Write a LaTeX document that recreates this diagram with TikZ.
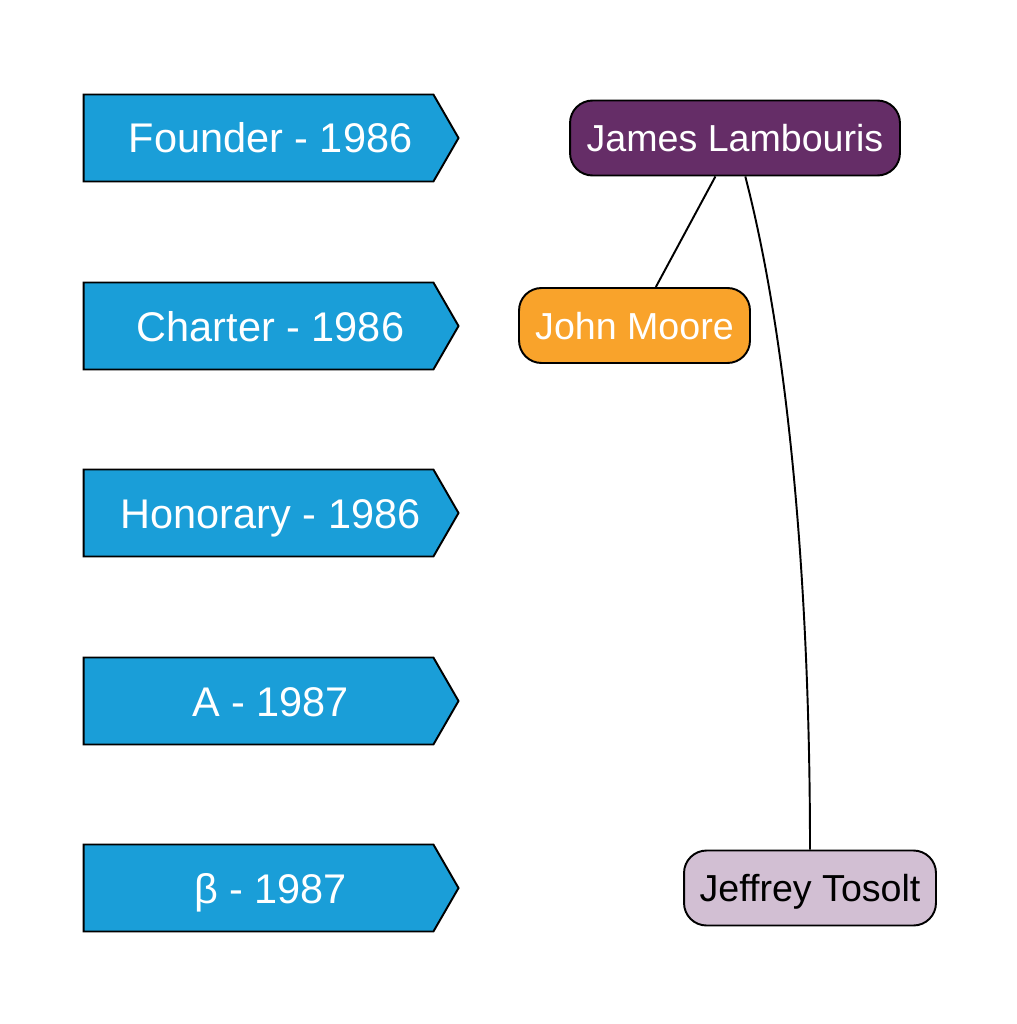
\documentclass[tikz,border=0pt]{standalone}
\usepackage{fontspec}
\setmainfont{Liberation Sans}
\usetikzlibrary{shapes.symbols}
\definecolor{rankblue}{HTML}{1A9ED8}
\definecolor{founderpurple}{HTML}{652D67}
\definecolor{charterorange}{HTML}{F9A32B}
\definecolor{betalilac}{HTML}{D2BFD3}

\tikzset{
	rank/.style={signal, signal to=east, signal pointer angle=120, draw=black, line width=1.1pt,
		fill=rankblue, text=white, minimum width=7.5cm, minimum height=1.74cm,
		inner sep=0pt, text height=0.6cm, text depth=0pt, font=\fontsize{23.6}{28}\selectfont},
	member/.style={rectangle, rounded corners=0.45cm, draw=black, line width=1.1pt,
		inner sep=0pt, minimum height=1.5cm, text height=0.55cm, text depth=0pt,
		font=\fontsize{21.4}{25}\selectfont},
}
\newcommand{\ranktext}[1]{\hspace*{0.48cm}#1}

\begin{document}
\begin{tikzpicture}[x=0.02cm, y=-0.02cm] % chapter members by rank
	
	\useasboundingbox (0,0) rectangle (1017,1024);
	
	%ranks
	\node[rank] (founder) at (258.5,138) {\ranktext{Founder - 1986}};
	\node[rank] (charter) at (258.5,326) {\ranktext{Charter - 1986}};
	\node[rank] (honorary) at (258.5,513) {\ranktext{Honorary - 1986}};
	\node[rank] (alpha) at (258.5,701) {\ranktext{A - 1987}};
	\node[rank] (beta) at (258.5,888) {\ranktext{β - 1987}};
	
	%members
	\node[member, fill=founderpurple, text=white, minimum width=6.6cm] (james) at (735,138) {James Lambouris};
	\node[member, fill=charterorange, text=white, minimum width=4.62cm] (john) at (634.5,325.5) {John Moore};
	\node[member, fill=betalilac, text=black, minimum width=5.04cm] (jeffrey) at (810,888) {Jeffrey Tosolt};
	
	%links
	\draw[line width=1.1pt] (james.-117.8) -- (john.61.3);
	\draw[line width=1.1pt] (james.-75) .. controls +(45,174) and +(0,-251) .. (jeffrey.north);
	
\end{tikzpicture}
\end{document}
